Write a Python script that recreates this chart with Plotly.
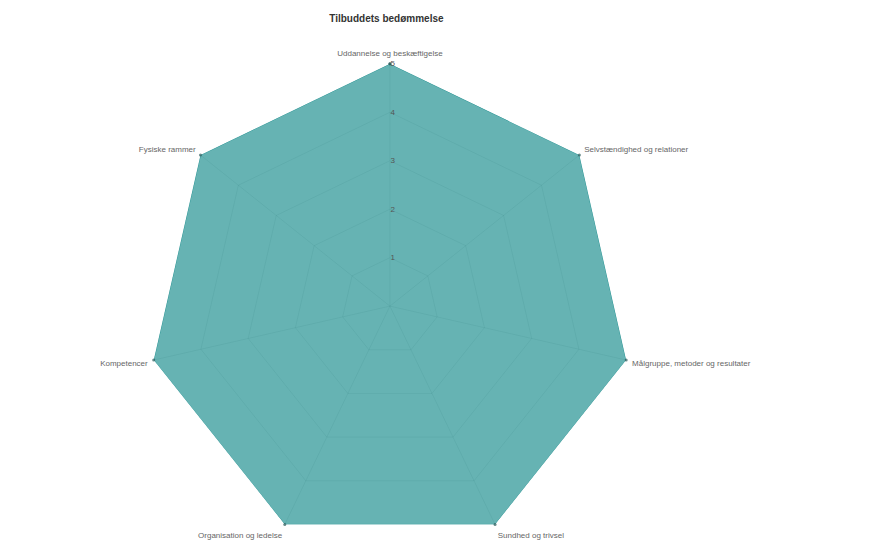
import plotly.graph_objects as go

categories = [
    "Uddannelse og beskæftigelse",
    "Selvstændighed og relationer",
    "Målgruppe, metoder og resultater",
    "Sundhed og trivsel",
    "Organisation og ledelse",
    "Kompetencer",
    "Fysiske rammer",
]
values = [5, 5, 5, 5, 5, 5, 5]
radial_ticks = [1, 2, 3, 4, 5]
title_text = "Tilbuddets bedømmelse"

fig = go.Figure()
fig.add_trace(go.Scatterpolar(
    r=values + values[:1],
    theta=categories + categories[:1],
    mode="lines+markers",
    fill="toself",
    fillcolor="rgba(0,128,128,0.6)",
    line=dict(color="rgba(0,128,128,0.6)", width=1),
    marker=dict(size=3, color="rgba(40,90,90,0.7)"),
    showlegend=False,
))

fig.update_layout(
    width=880, height=547,
    margin=dict(l=0, r=0, t=0, b=0),
    paper_bgcolor="white",
    title=dict(text="<b>" + title_text + "</b>", x=0.43, xanchor="center",
               y=0.98, yanchor="middle",
               font=dict(family="Liberation Sans, Arial", size=10, color="#333")),
    polar=dict(
        domain=dict(x=[0.141, 0.727], y=[0.012, 0.898]),
        bgcolor="white",
        gridshape="linear",
        radialaxis=dict(
            range=[0, 5], tickvals=radial_ticks, angle=90, tickangle=90,
            showline=False, ticks="",
            gridcolor="rgba(0,0,0,0.07)",
            tickfont=dict(family="Liberation Sans, Arial", size=8, color="#555"),
        ),
        angularaxis=dict(
            rotation=90, direction="clockwise",
            gridcolor="rgba(0,0,0,0.07)", linecolor="rgba(0,0,0,0.07)",
            showline=False, ticks="outside", ticklen=4,
            tickcolor="rgba(0,0,0,0)",
            tickfont=dict(family="Liberation Sans, Arial", size=8, color="#666"),
        ),
    ),
)

fig.write_html("out.html")
